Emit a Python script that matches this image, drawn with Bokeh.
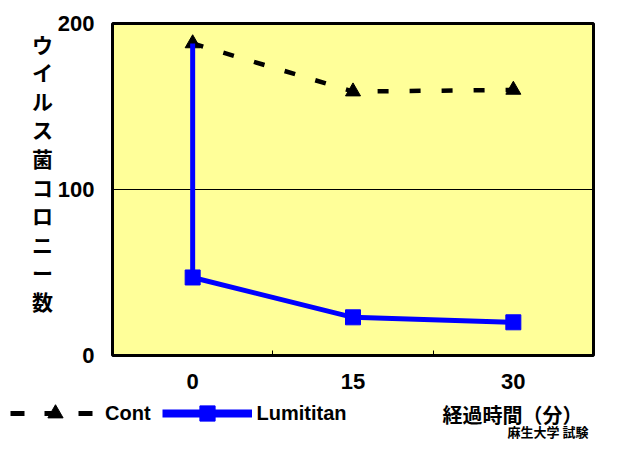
from bokeh.plotting import figure
from bokeh.layouts import column, row
from bokeh.models import Range1d, FixedTicker, Legend, LegendItem
from bokeh.core.properties import value
from bokeh.embed import file_html
from bokeh.resources import INLINE

# ---- data ----
time_ticks = [0, 15, 30]
time_labels = ["0", "15", "30"]
between_ticks = [7.5, 22.5]
y_ticks = [0, 100, 200]
grid_ticks = [100]

cont_x = [0, 15, 30]
cont_y = [188, 159, 160]

lumi_line_x = [0, 0, 15, 30]
lumi_line_y = [188, 47, 23, 20]
lumi_x = [0, 15, 30]
lumi_y = [47, 23, 20]

series_names = ["Cont", "Lumititan"]
y_title = "ウイルス菌コロニー数"
x_title = "経過時間（分）"
credit = "麻生大学 試験"

NUM_FONT = "Liberation Sans"
CJK_FONT = "Noto Sans CJK JP"
YELLOW = "#FFFF99"
BLUE = "#0000FF"
NAN = float("nan")

W, H = 601, 440
LEFT_W = 54
MAIN_H = 398
FRAME_TOP, FRAME_BOTTOM = 23, 355


def blank_fig(width, height, x_range, y_range, **kw):
    f = figure(width=width, height=height, output_backend="svg", toolbar_location=None,
               x_range=x_range, y_range=y_range,
               x_axis_location=None, y_axis_location=None, min_border=0, **kw)
    f.grid.visible = False
    f.outline_line_color = None
    f.background_fill_color = "white"
    f.border_fill_color = "white"
    return f


# ---- main chart ----
p = figure(width=W - LEFT_W, height=MAIN_H, output_backend="svg", toolbar_location=None,
           x_range=Range1d(-7.5, 37.5), y_range=Range1d(0, 200),
           min_border_left=112 - LEFT_W, min_border_right=8, min_border_top=FRAME_TOP,
           min_border_bottom=MAIN_H - FRAME_BOTTOM)
p.background_fill_color = YELLOW
p.border_fill_color = "white"
p.outline_line_color = "black"
p.outline_line_width = 3

p.xgrid.visible = False
p.ygrid.ticker = FixedTicker(ticks=grid_ticks)
p.ygrid.grid_line_color = "black"
p.ygrid.grid_line_width = 1

xa = p.xaxis[0]
xa.ticker = FixedTicker(ticks=time_ticks, minor_ticks=between_ticks)
xa.major_label_overrides = {t: l for t, l in zip(time_ticks, time_labels)}
xa.axis_line_color = None
xa.major_tick_in = 0
xa.major_tick_out = 0
xa.minor_tick_in = 5
xa.minor_tick_out = 0
xa.minor_tick_line_color = "black"
xa.minor_tick_line_width = 1
xa.major_label_standoff = 18
xa.major_label_text_font = NUM_FONT
xa.major_label_text_font_size = "22px"
xa.major_label_text_font_style = "bold"
xa.major_label_text_color = "black"

ya = p.yaxis[0]
ya.ticker = FixedTicker(ticks=y_ticks)
ya.axis_line_color = None
ya.major_tick_in = 0
ya.major_tick_out = 0
ya.minor_tick_line_color = None
ya.major_label_standoff = 18
ya.major_label_text_font = NUM_FONT
ya.major_label_text_font_size = "22px"
ya.major_label_text_font_style = "bold"
ya.major_label_text_color = "black"

p.line(cont_x, cont_y, line_color="black", line_width=4.5, line_dash="11 21")
p.scatter(cont_x, cont_y, marker="triangle", size=15, fill_color="black", line_color="black")
p.line(lumi_line_x, lumi_line_y, line_color=BLUE, line_width=5)
p.scatter(lumi_x, lumi_y, marker="square", size=15, fill_color=BLUE, line_color=BLUE)

# ---- left strip: stacked vertical y title (pixel coordinates, frame aligned with main) ----
left = blank_fig(LEFT_W, MAIN_H, Range1d(0, LEFT_W), Range1d(FRAME_BOTTOM, FRAME_TOP),
                 min_border_top=FRAME_TOP, min_border_bottom=MAIN_H - FRAME_BOTTOM)
chars = list(y_title)
left.text(x=[42] * len(chars), y=[43 + i * 28.6 for i in range(len(chars))], text=chars,
          text_align="center", text_baseline="middle", text_font=value(CJK_FONT),
          text_font_size="21px", text_font_style="bold", text_color="black")

# ---- bottom strip: legend, x title, credit (pixel coordinates) ----
BOT_H = H - MAIN_H
bottom = blank_fig(W, BOT_H, Range1d(0, W), Range1d(BOT_H, 0))
leg_cont_line = bottom.line([NAN], [NAN], line_color="black", line_width=5, line_dash="14 20")
leg_cont_pts = bottom.scatter([NAN], [NAN], marker="triangle", fill_color="black",
                              line_color="black")
leg_lumi_line = bottom.line([NAN], [NAN], line_color=BLUE, line_width=8)
leg_lumi_pts = bottom.scatter([NAN], [NAN], marker="square", fill_color=BLUE,
                              line_color=BLUE)
legend = Legend(items=[LegendItem(label=series_names[0], renderers=[leg_cont_line, leg_cont_pts]),
                       LegendItem(label=series_names[1], renderers=[leg_lumi_line, leg_lumi_pts])],
                orientation="horizontal", location=(10, 8),
                background_fill_alpha=0, border_line_color=None,
                padding=0, margin=0, spacing=11, label_standoff=5,
                glyph_width=90, glyph_height=38, label_height=20,
                label_text_font=NUM_FONT, label_text_font_size="20px",
                label_text_font_style="bold", label_text_color="black")
bottom.add_layout(legend)

bottom.text(x=[512], y=[16], text=[x_title], text_align="center", text_baseline="middle",
            text_font=value(CJK_FONT), text_font_size="20px", text_font_style="bold",
            text_color="black")
bottom.text(x=[507], y=[BOT_H], text=[credit], text_align="left", text_baseline="bottom",
            text_font=value(CJK_FONT), text_font_size="13px", text_font_style="bold",
            text_color="black")

layout = column(row(left, p), bottom)
open("out.html", "w").write(file_html(layout, INLINE))
